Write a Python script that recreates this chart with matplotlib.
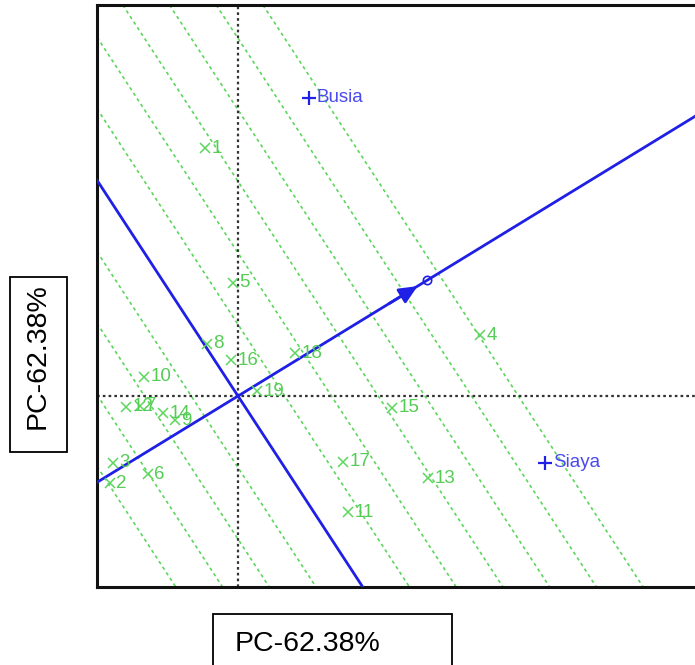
import numpy as np
import matplotlib.pyplot as plt
from matplotlib.patches import Rectangle

plt.rcParams['font.family'] = ['Liberation Sans', 'DejaVu Sans']

# genotype scores on the first two PCs
gen_labels = [str(i) for i in range(1, 20)]
gen_x = [-0.33, -1.28, -1.25, 2.42, -0.05, -0.90, -0.98, -0.31, -0.63, -0.94,
         1.10, -1.12, 1.90, -0.75, 1.54, -0.07, 1.05, 0.57, 0.19]
gen_y = [2.56, -0.90, -0.69, 0.63, 1.17, -0.81, -0.10, 0.54, -0.25, 0.20,
         -1.20, -0.11, -0.85, -0.18, -0.12, 0.37, -0.68, 0.44, 0.05]

# environment scores
env_labels = ['Busia', 'Siaya']
env_x = [0.71, 3.07]
env_y = [3.08, -0.69]

pc_label = 'PC-62.38%'
line_step = 0.395
line_ks = [-4, -3, -2, -1, 1, 2, 3, 4, 5, 6]

green = '#5cd65c'
green_txt = '#55cc55'
blue = '#1f1fe6'
blue_txt = '#4a4af0'

fig = plt.figure(figsize=(6.95, 6.65), dpi=100)
ax = fig.add_axes([97/695, 78/665, 603/695, 582/665])
ax.set_xlim(-1.41, 4.62)
ax.set_ylim(-1.973, 4.04)
ax.set_xticks([])
ax.set_yticks([])
for s in ax.spines.values():
    s.set_linewidth(2.2)
    s.set_color('#111111')

# average environment axis
atc = np.array([np.mean(env_x), np.mean(env_y)])
u = atc / np.linalg.norm(atc)
perp_slope = -u[0] / u[1]

# dashed lines perpendicular to the ATC axis
for k in line_ks:
    p = k * line_step * u
    ax.axline((p[0], p[1]), slope=perp_slope, color=green, lw=1.2,
              ls=(0, (2, 2)), zorder=1)

# origin cross-hair
ax.axhline(0, color='#333333', lw=1.6, ls=(0, (1.2, 1.4)), zorder=1)
ax.axvline(0, color='#333333', lw=1.6, ls=(0, (1.2, 1.4)), zorder=1)

ax.axline((0, 0), (atc[0], atc[1]), color=blue, lw=2, zorder=3)
ax.axline((0, 0), slope=perp_slope, color=blue, lw=2, zorder=3)
tip = 0.95 * atc
ax.annotate('', xy=(tip[0], tip[1]), xytext=(0.8 * atc[0], 0.8 * atc[1]),
            arrowprops=dict(arrowstyle='-|>,head_length=1.1,head_width=0.5',
                            color=blue, lw=2, shrinkA=0, shrinkB=0),
            zorder=4)
ax.plot(atc[0], atc[1], 'o', mfc='none', mec=blue, ms=6, mew=1.2, zorder=4)

# genotypes
ax.plot(gen_x, gen_y, 'x', color=green, ms=6.5, mew=1.1, zorder=5)
for lab, x, y in zip(gen_labels, gen_x, gen_y):
    ax.annotate(lab, (x, y), xytext=(4.5, 0), textcoords='offset points',
                ha='left', va='center', fontsize=13.5, color=green_txt, zorder=6)

# environments
ax.plot(env_x, env_y, '+', color=blue, ms=10, mew=1.6, zorder=5)
for lab, x, y in zip(env_labels, env_x, env_y):
    ax.annotate(lab, (x, y), xytext=(5.5, 0), textcoords='offset points',
                ha='left', va='center', fontsize=13.5, color=blue_txt, zorder=6)

# boxed axis titles
fig.add_artist(Rectangle((213/695, -5/665), 239/695, 56/665, fill=False,
                         ec='black', lw=1.3, transform=fig.transFigure))
fig.text(235/695, (665-644)/665, pc_label, ha='left', va='center', fontsize=20.5)
fig.add_artist(Rectangle((10/695, (665-452)/665), 57/695, 175/665, fill=False,
                         ec='black', lw=1.3, transform=fig.transFigure))
fig.text(38/695, (665-356)/665, pc_label, ha='center', va='center',
         rotation=90, fontsize=20.5)

fig.savefig('out.png', dpi=100)
